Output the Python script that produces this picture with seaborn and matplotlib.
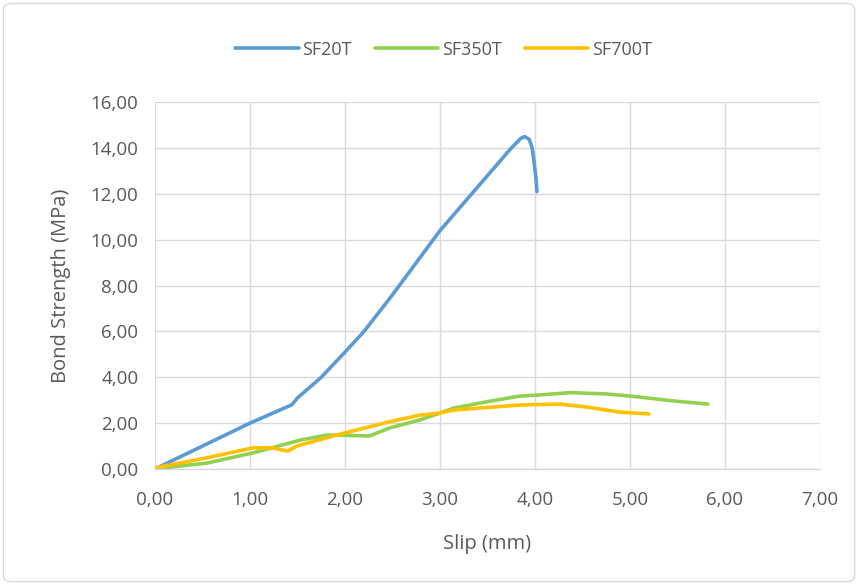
import numpy as np
import pandas as pd
import matplotlib
matplotlib.use("Agg")
import matplotlib.pyplot as plt
import seaborn as sns
from matplotlib.ticker import FuncFormatter, MultipleLocator
from matplotlib.patches import FancyBboxPatch

# Data
sf20_x = [0.0, 0.5, 1.0, 1.44, 1.5, 1.75, 2.0, 2.2, 2.5, 2.75, 3.0, 3.25, 3.5, 3.75, 3.85, 3.89, 3.94, 3.97, 3.99, 4.01, 4.02]
sf20_y = [0.0, 1.0, 2.0, 2.8, 3.1, 4.0, 5.1, 6.0, 7.6, 9.0, 10.4, 11.6, 12.8, 14.0, 14.42, 14.5, 14.38, 14.0, 13.4, 12.7, 12.1]

sf350_x = [0.0, 0.2, 0.54, 1.03, 1.53, 1.81, 2.26, 2.47, 2.79, 3.0, 3.14, 3.49, 3.84, 4.02, 4.37, 4.76, 5.07, 5.45, 5.82]
sf350_y = [0.0, 0.1, 0.25, 0.7, 1.26, 1.48, 1.44, 1.79, 2.14, 2.44, 2.65, 2.93, 3.18, 3.22, 3.33, 3.27, 3.15, 2.97, 2.83]

sf700_x = [0.0, 0.05, 0.54, 1.03, 1.23, 1.40, 1.49, 1.95, 2.47, 2.79, 3.0, 3.14, 3.84, 4.26, 4.55, 4.89, 5.2]
sf700_y = [0.0, 0.09, 0.48, 0.92, 0.92, 0.78, 1.0, 1.52, 2.06, 2.35, 2.44, 2.57, 2.79, 2.83, 2.7, 2.48, 2.4]

series_names = ["SF20T", "SF350T", "SF700T"]
colors = ["#5B9BD5", "#92D050", "#FFC000"]

frames = []
for name, xs, ys in zip(series_names, [sf20_x, sf350_x, sf700_x], [sf20_y, sf350_y, sf700_y]):
    frames.append(pd.DataFrame({"slip": xs, "strength": ys, "series": name}))
df = pd.concat(frames, ignore_index=True)

sns.set_style("white")
plt.rcParams["font.family"] = ["Open Sans", "DejaVu Sans"]

fig = plt.figure(figsize=(8.58, 5.84), dpi=100)
ax = fig.add_axes([0.1807, 0.197, 0.775, 0.628])

sns.lineplot(data=df, x="slip", y="strength", hue="series", hue_order=series_names,
             palette=colors, sort=False, estimator=None, units="series",
             linewidth=2.6, ax=ax, legend=True)
for ln in ax.get_lines():
    ln.set_solid_joinstyle("round")
    ln.set_solid_capstyle("round")

ax.set_xlim(0, 7)
ax.set_ylim(0, 16)
ax.xaxis.set_major_locator(MultipleLocator(1))
ax.yaxis.set_major_locator(MultipleLocator(2))
fmt = FuncFormatter(lambda v, p: f"{v:.2f}".replace(".", ","))
ax.xaxis.set_major_formatter(fmt)
ax.yaxis.set_major_formatter(fmt)
ax.grid(True, color="#D9D9D9", linewidth=1)
ax.set_axisbelow(True)
for s in ["top", "right", "left"]:
    ax.spines[s].set_visible(False)
ax.spines["bottom"].set_color("#D9D9D9")
ax.spines["bottom"].set_linewidth(1)
ax.tick_params(axis="y", labelsize=13.5, labelcolor="#595959", length=0, pad=12)
ax.tick_params(axis="x", labelsize=13.5, labelcolor="#595959", length=0, pad=16)
ax.set_xlabel("Slip (mm)", fontsize=14.5, color="#595959", labelpad=18)
ax.set_ylabel("Bond Strength (MPa)", fontsize=14.5, color="#595959", labelpad=14)

handles, labels = ax.get_legend_handles_labels()
ax.legend(handles, labels, loc="center", bbox_to_anchor=(0.517, 0.915), bbox_transform=fig.transFigure,
          ncol=3, frameon=False, fontsize=13, labelcolor="#595959", handlelength=3.5,
          columnspacing=1.3, handletextpad=0.2)
for lh in ax.get_legend().get_lines():
    lh.set_linewidth(2.6)

border = FancyBboxPatch((0.004, 0.004), 0.992, 0.99, boxstyle="round,pad=0,rounding_size=0.01",
                        transform=fig.transFigure, fill=False, edgecolor="#D9D9D9", linewidth=1)
fig.patches.append(border)

fig.savefig("out.png", dpi=100)
